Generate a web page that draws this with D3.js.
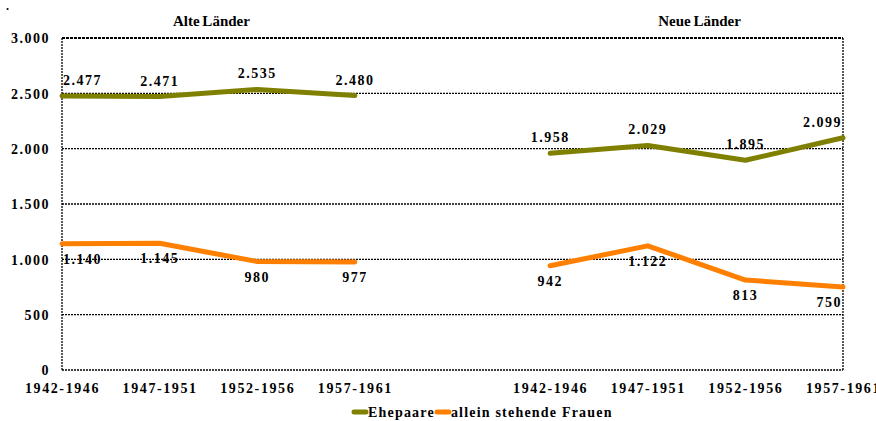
<!DOCTYPE html>
<html>
<head>
<meta charset="utf-8">
<script src="https://cdn.jsdelivr.net/npm/d3@7"></script>
<style>
  body { margin: 0; background: #fff; }
  svg text { font-family: "Liberation Serif", "DejaVu Serif", serif !important; font-weight: bold; fill: #000; }
</style>
</head>
<body>
<div id="chart-area"></div>
<script>
// periods (index 4 is the empty gap between the two panels)
var categories = ["1942-1946", "1947-1951", "1952-1956", "1957-1961", "",
                  "1942-1946", "1947-1951", "1952-1956", "1957-1961"];
var ehepaare = [2477, 2471, 2535, 2480, null, 1958, 2029, 1895, 2099];
var frauen = [1140, 1145, 980, 977, null, 942, 1122, 813, 750];
var yTicks = [0, 500, 1000, 1500, 2000, 2500, 3000];
var panels = [
  { title: "Alte Länder", from: 0, to: 3 },
  { title: "Neue Länder", from: 5, to: 8 }
];
var seriesNames = ["Ehepaare", "allein stehende Frauen"];

var width = 876;
var height = 421;
var margin = { top: 38, right: 33, bottom: 51, left: 62 };
var charWidth = width - margin.left - margin.right;
var charHeight = height - margin.top - margin.bottom;

var de = d3.formatLocale({ decimal: ",", thousands: ".", grouping: [3], currency: ["", " €"] });
var fmt = de.format(",d");

var svg = d3.select("#chart-area")
  .append("svg")
  .attr("width", width)
  .attr("height", height);

var g = svg.append("g")
  .attr("transform", "translate(" + margin.left + ", " + margin.top + ")");

var x = d3.scalePoint()
  .domain(d3.range(categories.length))
  .range([0, charWidth]);

var y = d3.scaleLinear()
  .domain([0, 3000])
  .range([charHeight, 0]);

// gridlines
g.selectAll(".grid")
  .data(yTicks).enter()
  .append("line")
  .attr("x1", 0)
  .attr("x2", charWidth)
  .attr("y1", d => y(d))
  .attr("y2", d => y(d))
  .attr("stroke", "#000")
  .attr("stroke-width", d => d == 3000 ? 2 : 1.3)
  .attr("stroke-dasharray", d => d == 3000 ? "3,1" : "2,1");

// left / right borders
g.selectAll(".border")
  .data([0, charWidth]).enter()
  .append("line")
  .attr("x1", d => d)
  .attr("x2", d => d)
  .attr("y1", 0)
  .attr("y2", charHeight)
  .attr("stroke", "#000")
  .attr("stroke-width", 1.3)
  .attr("stroke-dasharray", "2,1");

// y axis labels
var leftAxis = d3.axisLeft(y).tickValues(yTicks).tickFormat(fmt).tickSize(0).tickPadding(12);
var yAxis = g.append("g").attr("class", "y axis").call(leftAxis);
yAxis.select(".domain").remove();
yAxis.selectAll("text")
  .attr("font-size", "14px")
  .attr("letter-spacing", "1.5px")
  .attr("dy", "0.35em");

// x axis labels
var bottomAxis = d3.axisBottom(x).tickFormat(i => categories[i]).tickSize(0).tickPadding(13);
var xAxis = g.append("g")
  .attr("class", "x axis")
  .attr("transform", "translate(0, " + charHeight + ")")
  .call(bottomAxis);
xAxis.select(".domain").remove();
xAxis.selectAll("text")
  .attr("font-size", "14px")
  .attr("letter-spacing", "1.6px");

// panel titles
g.selectAll(".panel-title")
  .data(panels).enter()
  .append("text")
  .attr("x", d => (x(d.from) + x(d.to)) / 2 + 3)
  .attr("y", -12)
  .attr("text-anchor", "middle")
  .attr("font-size", "15px")
  .attr("word-spacing", "-1px")
  .text(d => d.title);

svg.append("text").attr("x", 6).attr("y", 10).attr("font-size", "12px").text(".");

var series = [
  { name: seriesNames[0], values: ehepaare, color: "#808000", dy: -11 },
  { name: seriesNames[1], values: frauen, color: "#FF8000", dy: 20 }
];

var line = d3.line()
  .defined(d => d != null)
  .x((d, i) => x(i))
  .y(d => y(d));

series.forEach(s => {
  g.append("path")
    .datum(s.values)
    .attr("fill", "none")
    .attr("stroke", s.color)
    .attr("stroke-width", 5)
    .attr("stroke-linejoin", "round")
    .attr("stroke-linecap", "round")
    .attr("d", line);

  var labels = g.selectAll(null)
    .data(s.values.map((v, i) => ({ v: v, i: i })).filter(d => d.v != null))
    .enter()
    .append("text")
    .attr("font-size", "14px")
    .attr("letter-spacing", "1.5px")
    .attr("text-anchor", "middle")
    .attr("y", d => y(d.v) + s.dy)
    .text(d => fmt(d.v));

  // keep labels inside the plot area
  labels.attr("x", function(d) {
    var w = this.getComputedTextLength();
    var cx = x(d.i);
    return Math.max(w / 2 + 1, Math.min(charWidth - w / 2 - 1, cx));
  });
});

// legend
var legend = svg.append("g").attr("transform", "translate(352, 412)");
var lx = 0;
series.forEach(s => {
  legend.append("line")
    .attr("x1", lx + 2).attr("x2", lx + 14)
    .attr("y1", 0).attr("y2", 0)
    .attr("stroke", s.color)
    .attr("stroke-width", 5)
    .attr("stroke-linecap", "round");
  var t = legend.append("text")
    .attr("x", lx + 16)
    .attr("y", 5)
    .attr("font-size", "14px")
    .attr("letter-spacing", "1.2px")
    .text(s.name);
  lx += 16 + t.node().getComputedTextLength();
});
</script>
</body>
</html>
